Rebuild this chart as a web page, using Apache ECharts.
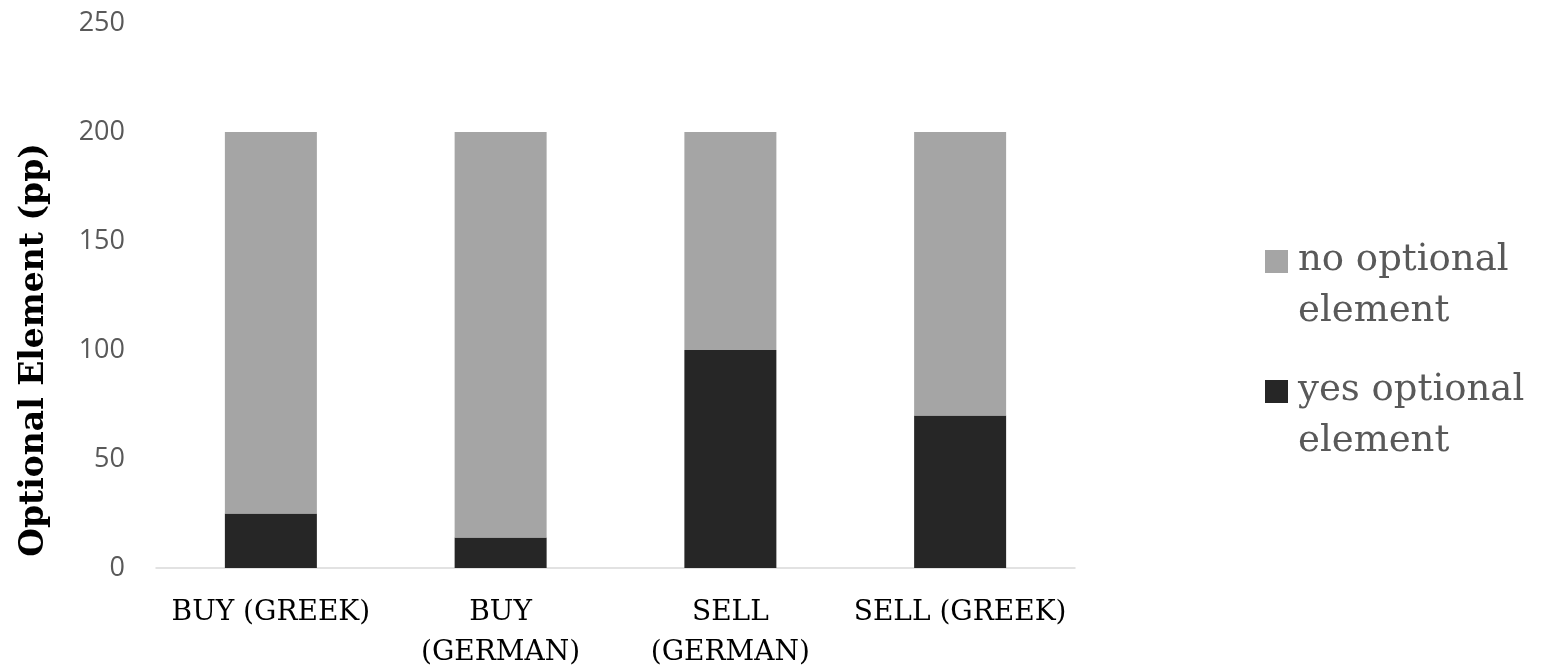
<!DOCTYPE html>
<html>
<head>
<meta charset="utf-8">
<script src="https://cdn.jsdelivr.net/npm/echarts@6/dist/echarts.min.js"></script>
<style>html,body{margin:0;padding:0;background:#fff;}#c{width:1542px;height:666px;}</style>
</head>
<body>
<div id="c"></div>
<script>
const categories = ['BUY (GREEK)', 'BUY\n(GERMAN)', 'SELL\n(GERMAN)', 'SELL (GREEK)'];
const yesOptional = [25, 14, 100, 70];
const noOptional = [175, 186, 100, 130];
const seriesNames = ['yes optional\nelement', 'no optional\nelement'];
const yTicks = [0, 50, 100, 150, 200, 250];

const legendIcon = 'path://M0,0L23,0L23,23L0,23Z M28,72L27.99,72L27.99,71.99Z';

const chart = echarts.init(document.getElementById('c'));
chart.setOption({
  animation: false,
  grid: { left: 156, right: 467, top: 23, bottom: 98, outerBoundsMode: 'none', containLabel: false },
  legend: {
    data: [seriesNames[1], seriesNames[0]],
    orient: 'vertical',
    left: 1265, top: 235,
    padding: 0,
    itemWidth: 28, itemHeight: 72,
    itemGap: 28,
    icon: legendIcon,
    textStyle: { fontFamily: 'DejaVu Serif', fontSize: 37, color: '#595959', lineHeight: 51 }
  },
  xAxis: {
    type: 'category',
    data: categories,
    axisLine: { lineStyle: { color: '#d9d9d9', width: 1.5 } },
    axisTick: { show: false },
    axisLabel: { interval: 0, fontFamily: 'DejaVu Serif', fontSize: 28, color: '#000', lineHeight: 40, margin: 25 }
  },
  yAxis: {
    type: 'value',
    min: yTicks[0], max: yTicks[yTicks.length - 1], interval: 50,
    splitLine: { show: false },
    axisLine: { show: false },
    axisTick: { show: false },
    axisLabel: { fontFamily: 'Open Sans', fontSize: 27, color: '#595959', margin: 31 }
  },
  graphic: [{
    type: 'text', x: 34, y: 350,
    rotation: Math.PI / 2,
    style: { text: 'Optional Element (pp)', font: 'bold 33px "DejaVu Serif"', fill: '#000', align: 'center', verticalAlign: 'middle' }
  }],
  series: [
    { name: seriesNames[0], type: 'bar', stack: 's', data: yesOptional, barWidth: 92, itemStyle: { color: '#262626' } },
    { name: seriesNames[1], type: 'bar', stack: 's', data: noOptional, barWidth: 92, itemStyle: { color: '#a5a5a5' } }
  ]
});
</script>
</body>
</html>
